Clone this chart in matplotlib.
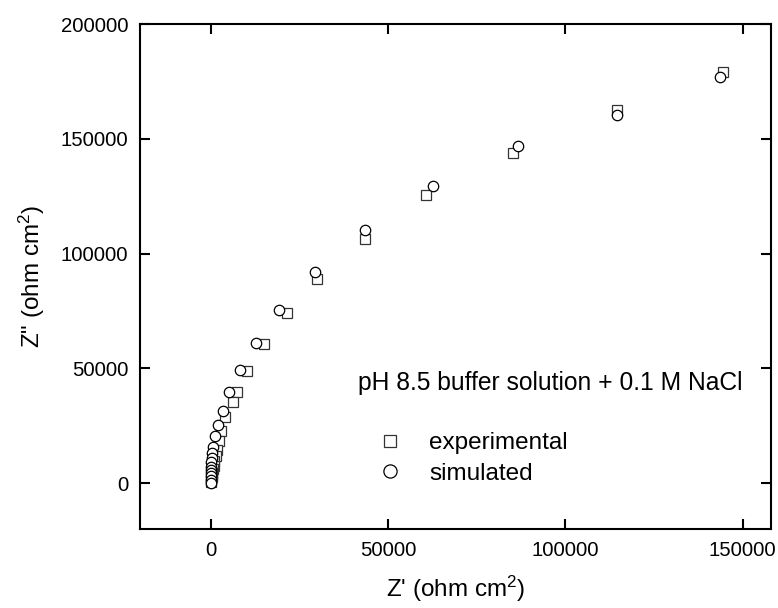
import matplotlib
matplotlib.use("Agg")
import matplotlib.pyplot as plt
from matplotlib.lines import Line2D

plt.rcParams['font.family'] = ['Liberation Sans', 'DejaVu Sans']
plt.rcParams['mathtext.default'] = 'regular'

# experimental data (Z', Z'')
exp_zre = [144500, 114500, 85100, 60700, 43500, 30000, 21600, 15100, 10300, 7300,
           6100, 4000, 2800, 2150, 1700, 1300, 1000, 800, 600, 450, 350, 250, 150, 100]
exp_zim = [179000, 162500, 144000, 125400, 106500, 88800, 74000, 60500, 49000, 39900,
           35500, 29000, 22900, 18500, 14500, 11800, 9500, 7600, 6000, 4600, 3500, 2500, 1500, 500]

# simulated data (Z', Z'')
sim_zre = [143500, 114500, 86700, 62700, 43500, 29300, 19200, 12600, 8100, 5200,
           3400, 2060, 1210, 650, 450, 280, 150, 100, 60, 40, 20, 10, 0]
sim_zim = [177000, 160300, 146900, 129500, 110300, 92100, 75500, 61200, 49300, 39500,
           31500, 25200, 20300, 15900, 13100, 10900, 9000, 7200, 5800, 4400, 2900, 1400, 0]

xticks = [0, 50000, 100000, 150000]
yticks = [0, 50000, 100000, 150000, 200000]

fig = plt.figure(figsize=(7.78, 6.08), dpi=100)
ax = fig.add_axes([140/778, 1-529/608, (771-140)/778, (529-24)/608])

ax.plot(exp_zre, exp_zim, linestyle='none', marker='s', markersize=6.5,
        markerfacecolor='white', markeredgecolor='#333333', markeredgewidth=0.9,
        label='experimental', zorder=3)
ax.plot(sim_zre, sim_zim, linestyle='none', marker='o', markersize=7.5,
        markerfacecolor='white', markeredgecolor='black', markeredgewidth=0.9,
        label='simulated', zorder=4)

ax.set_xlim(-20000, 158000)
ax.set_ylim(-20000, 200000)
ax.set_xticks(xticks)
ax.set_yticks(yticks)
ax.set_xticklabels([str(t) for t in xticks])
ax.set_yticklabels([str(t) for t in yticks])

for s in ax.spines.values():
    s.set_linewidth(1.5)
ax.tick_params(direction='in', length=7, width=1.5, top=True, right=True,
               labelsize=14.7, pad=8.5)

ax.set_xlabel("Z' (ohm cm$^2$)", fontsize=17.5, labelpad=10)
ax.set_ylabel('Z" (ohm cm$^2$)', fontsize=17.5, labelpad=10)

ax.text(0.3455, 0.289, 'pH 8.5 buffer solution + 0.1 M NaCl', transform=ax.transAxes,
        fontsize=17.7, ha='left', va='center')

handles = [
    Line2D([], [], linestyle='none', marker='s', markersize=9, markerfacecolor='white',
           markeredgecolor='#333333', markeredgewidth=0.9),
    Line2D([], [], linestyle='none', marker='o', markersize=9.5, markerfacecolor='white',
           markeredgecolor='black', markeredgewidth=0.9),
]
ax.legend(handles, ['experimental', 'simulated'], loc='center left',
          bbox_to_anchor=(0.381, 0.1396), frameon=False, fontsize=17.5,
          handlelength=0.8, handletextpad=1.2, borderpad=0, borderaxespad=0,
          labelspacing=0.35)

fig.savefig('out.png', dpi=100)
